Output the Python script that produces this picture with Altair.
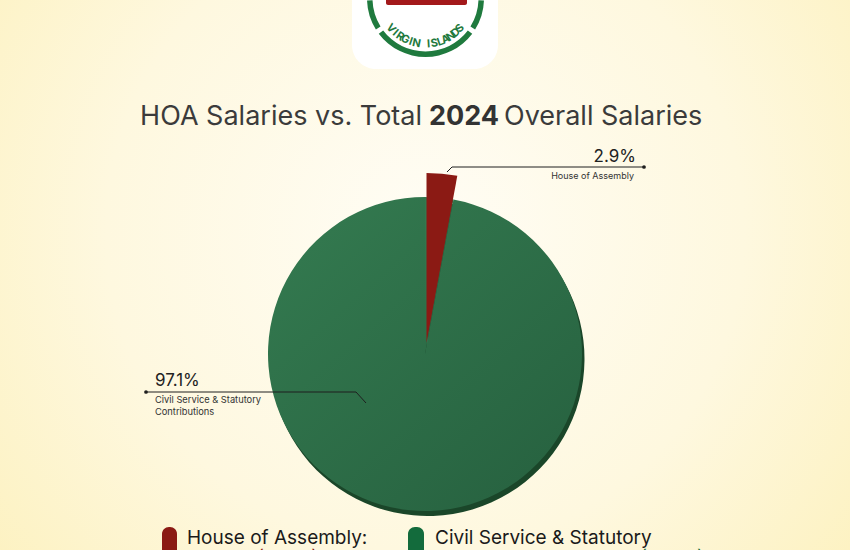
import altair as alt
import pandas as pd

# ---- data ----
categories = ["House of Assembly", "Civil Service & Statutory Contributions"]
shares = [2.9, 97.1]
share_labels = ["2.9%", "97.1%"]
legend_labels = ["House of Assembly:", "Civil Service & Statutory"]
title_parts = ["HOA Salaries vs. Total", "2024", "Overall Salaries"]
logo_text = "VIRGIN ISLANDS"

W, H = 850, 550
FONT = "Inter"
GREEN = "#2c6e47"
RED = "#8b1a14"

pie_df = pd.DataFrame({"category": categories, "share": shares})
one = alt.Data(values=[{"a": 1}])
letters = alt.Data(values=[{"ch": c} for c in logo_text])

# ---- background ----
bg_grad = alt.RadialGradient(
    gradient="radial",
    x1=0.5, y1=0.45, r1=0.0, x2=0.5, y2=0.45, r2=0.75,
    stops=[
        alt.GradientStop(color="#fffdf5", offset=0),
        alt.GradientStop(color="#fef8df", offset=0.5),
        alt.GradientStop(color="#fcefb4", offset=1),
    ],
)
bg = alt.Chart(one).mark_rect(fill=bg_grad).encode(
    x=alt.value(0), x2=alt.value(W), y=alt.value(0), y2=alt.value(H)
)

# ---- logo ----
logo_box = alt.Chart(one).mark_rect(fill="white", cornerRadius=24).encode(
    x=alt.value(352), x2=alt.value(498), y=alt.value(-40), y2=alt.value(69)
)
ring_layers = []
for a0, a1 in [(92, 122), (127, 233), (238, 268)]:
    ring_layers.append(
        alt.Chart(one).mark_arc(
            theta=a0 * 3.14159265 / 180, theta2=a1 * 3.14159265 / 180,
            innerRadius=53, outerRadius=58.5, fill="#1f7a3e"
        ).encode(x=alt.value(425.5), y=alt.value(-1.5))
    )
logo_red = alt.Chart(one).mark_rect(fill="#a3191b", cornerRadius=2).encode(
    x=alt.value(386), x2=alt.value(467), y=alt.value(-6), y2=alt.value(5)
)
logo_letters = (
    alt.Chart(letters)
    .transform_window(i="row_number()")
    .transform_calculate(
        deg="229 - (datum.i - 1) * 98 / 13",
    )
    .transform_calculate(
        th="datum.deg * PI / 180",
        ang="(datum.deg - 180 + 360) % 360",
    )
    .mark_text(font=FONT, fontSize=11, fontWeight="bold", fill="#1f7a3e",
               baseline="middle", align="center")
    .encode(
        x=alt.value(425.5), y=alt.value(-1.5),
        theta=alt.Theta("th:Q", scale=None),
        radius=alt.Radius(value=46),
        angle=alt.Angle("ang:Q", scale=None),
        text="ch:N",
    )
)

# ---- title ----
TS = 27
t1 = alt.Chart(one).mark_text(font=FONT, fontSize=TS, fill="#3b3b3b", align="right",
                              baseline="alphabetic", text=title_parts[0]).encode(
    x=alt.value(422), y=alt.value(125))
t2 = alt.Chart(one).mark_text(font=FONT, fontSize=TS, fontWeight="bold", fill="#333333",
                              align="center", baseline="alphabetic", text=title_parts[1]).encode(
    x=alt.value(464), y=alt.value(125))
t3 = alt.Chart(one).mark_text(font=FONT, fontSize=TS, fill="#3b3b3b", align="left",
                              baseline="alphabetic", text=title_parts[2]).encode(
    x=alt.value(504), y=alt.value(125))

# ---- pie ----
base = alt.Chart(pie_df).transform_window(ord="row_number()")
theta = alt.Theta("share:Q", stack=True)
order = alt.Order("ord:Q")

shadow = base.mark_arc(outerRadius=157, fill="#1a4629").encode(
    theta=theta, order=order, detail="category:N",
    x=alt.value(427.5), y=alt.value(359))

green_grad = alt.LinearGradient(
    gradient="linear", x1=0.1, y1=0.05, x2=0.9, y2=0.95,
    stops=[alt.GradientStop(color="#33794f", offset=0),
           alt.GradientStop(color="#276240", offset=1)],
)
green = base.mark_arc(outerRadius=157, fill=green_grad).encode(
    theta=theta, order=order, detail="category:N",
    x=alt.value(425), y=alt.value(354))

red = base.mark_arc(outerRadius=170, fill=RED).encode(
    theta=theta, order=order, detail="category:N",
    opacity=alt.condition(alt.datum.category == categories[0], alt.value(1), alt.value(0)),
    x=alt.value(426.5), y=alt.value(343))

# ---- annotations ----
def rule(x1, y1, x2, y2):
    return alt.Chart(one).mark_rule(color="#1e1e1e", strokeWidth=1).encode(
        x=alt.value(x1), y=alt.value(y1), x2=alt.value(x2), y2=alt.value(y2))

def dot(x, y):
    return alt.Chart(one).mark_circle(size=14, color="#1e1e1e", opacity=1).encode(
        x=alt.value(x), y=alt.value(y))

def txt(s, x, y, size, align="left", color="#222222", weight="normal"):
    return alt.Chart(one).mark_text(font=FONT, fontSize=size, fill=color, align=align,
                                    baseline="alphabetic", text=s, fontWeight=weight).encode(
        x=alt.value(x), y=alt.value(y))

ann = [
    rule(447, 172, 452, 167), rule(452, 167, 644, 167), dot(644, 167),
    txt(share_labels[0], 636, 162, 17, "right"),
    txt(categories[0], 634, 179, 9, "right", "#333333"),
    rule(146, 392, 356, 392), rule(356, 392, 366, 403), dot(146, 392),
    txt(share_labels[1], 155, 386, 17, "left"),
    txt("Civil Service & Statutory", 155, 403, 9.3, "left", "#333333"),
    txt("Contributions", 155, 415, 9.3, "left", "#333333"),
]

# ---- legend ----
leg = [
    alt.Chart(one).mark_rect(fill=RED, cornerRadius=7).encode(
        x=alt.value(162), x2=alt.value(177), y=alt.value(527), y2=alt.value(580)),
    alt.Chart(one).mark_rect(fill="#136b3c", cornerRadius=7).encode(
        x=alt.value(408), x2=alt.value(424), y=alt.value(527), y2=alt.value(580)),
    txt(legend_labels[0], 187, 544, 19, "left", "#1a1a1a"),
    txt(legend_labels[1], 435, 544, 19, "left", "#1a1a1a"),
    txt("(" + share_labels[0] + ")", 257, 564, 19, "left", RED),
    txt("(" + share_labels[1] + ")", 640, 564, 19, "left", "#136b3c"),
]

chart = alt.layer(
    bg, logo_box, *ring_layers, logo_red, logo_letters,
    t1, t2, t3, shadow, green, red, *ann, *leg
).properties(
    width=W, height=H, padding=0, autosize=alt.AutoSizeParams(type="none")
).configure_view(stroke=None)

chart.save("out.html", embed_options={"renderer": "svg", "actions": False})
